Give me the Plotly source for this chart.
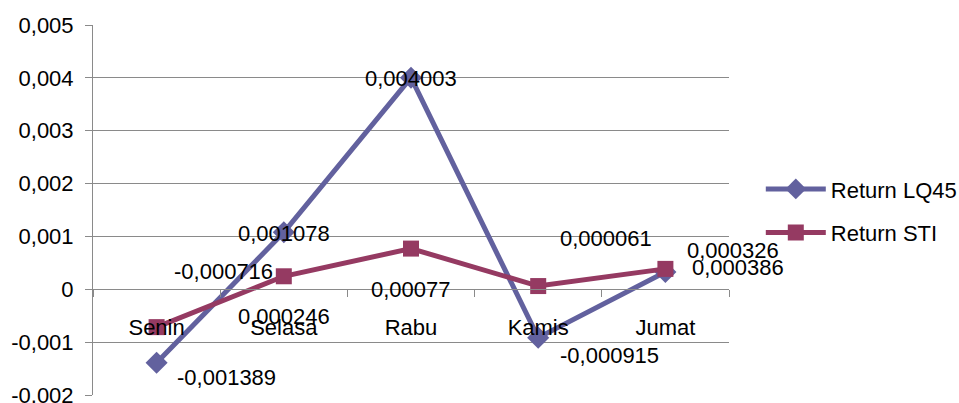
import plotly.graph_objects as go

categories = ["Senin", "Selasa", "Rabu", "Kamis", "Jumat"]
lq45 = [-0.001389, 0.001078, 0.004003, -0.000915, 0.000326]
sti = [-0.000716, 0.000246, 0.00077, 0.000061, 0.000386]
lq45_labels = ["-0,001389", "0,001078", "0,004003", "-0,000915", "0,000326"]
sti_labels = ["-0,000716", "0,000246", "0,00077", "0,000061", "0,000386"]
ytick_vals = [-0.002, -0.001, 0, 0.001, 0.002, 0.003, 0.004, 0.005]
ytick_text = ["-0,002", "-0,001", "0", "0,001", "0,002", "0,003", "0,004", "0,005"]

# label offsets (pixels) relative to each point, emulating the original label placement
lq45_shift = [(70, -15), (0, -1), (0, -1), (71, -18), (68, 22)]
sti_shift = [(67, 56), (0, -40), (0, -41), (68, 48), (73, 1)]

FONT = "Liberation Sans"
C1 = "#62619E"
C2 = "#953A62"
GRID = "#8A8A8A"

fig = go.Figure()
fig.add_trace(go.Scatter(
    x=categories, y=lq45, name="Return LQ45", mode="lines+markers",
    line=dict(color=C1, width=5), legendgroup="a",
    marker=dict(symbol="diamond", size=17, color=C1),
))
fig.add_trace(go.Scatter(
    x=categories, y=sti, name="Return STI", mode="lines+markers",
    line=dict(color=C2, width=5), legendgroup="b",
    marker=dict(symbol="square", size=16, color=C2),
))

for cat, v, t, (dx, dy) in zip(categories, lq45, lq45_labels, lq45_shift):
    fig.add_annotation(x=cat, y=v, text=t, showarrow=False, xshift=dx, yshift=dy,
                       font=dict(family=FONT, size=22, color="black"))
for cat, v, t, (dx, dy) in zip(categories, sti, sti_labels, sti_shift):
    fig.add_annotation(x=cat, y=v, text=t, showarrow=False, xshift=dx, yshift=dy,
                       font=dict(family=FONT, size=22, color="black"))

ymin, ymax = -0.002, 0.005
eps = 1e-8
fig.update_layout(
    width=959, height=403,
    margin=dict(l=93, r=230, t=25, b=8, autoexpand=False),
    paper_bgcolor="white", plot_bgcolor="white",
    font=dict(family=FONT, size=22, color="black"),
    showlegend=True,
    legend=dict(x=1.05, xanchor="left", y=0.497, yanchor="middle",
                font=dict(size=22), itemwidth=60, tracegroupgap=12,
                traceorder="grouped", bgcolor="rgba(0,0,0,0)"),
    xaxis=dict(
        type="category", categoryorder="array", categoryarray=categories,
        range=[-0.5, 4.5], anchor="free", position=(0 - ymin) / (ymax - ymin),
        showline=True, linecolor=GRID, linewidth=1, automargin=False,
        ticks="outside", tickson="boundaries", ticklen=7, tickcolor=GRID,
        showgrid=False, zeroline=False, ticklabelstandoff=18,
        tickfont=dict(family=FONT, size=22),
    ),
    yaxis=dict(
        range=[ymin - eps, ymax + eps], tickvals=ytick_vals, ticktext=ytick_text,
        showline=True, linecolor=GRID, linewidth=1, automargin=False,
        ticks="outside", ticklen=7, tickcolor=GRID, ticklabeloverflow="allow",
        ticklabelstandoff=7,
        showgrid=True, gridcolor=GRID, gridwidth=1, zeroline=False,
        tickfont=dict(family=FONT, size=22),
    ),
)

fig.write_html(
    "out.html",
    config={"displayModeBar": False},
    post_script="document.body.style.margin='0px';document.body.style.overflow='hidden';",
)
